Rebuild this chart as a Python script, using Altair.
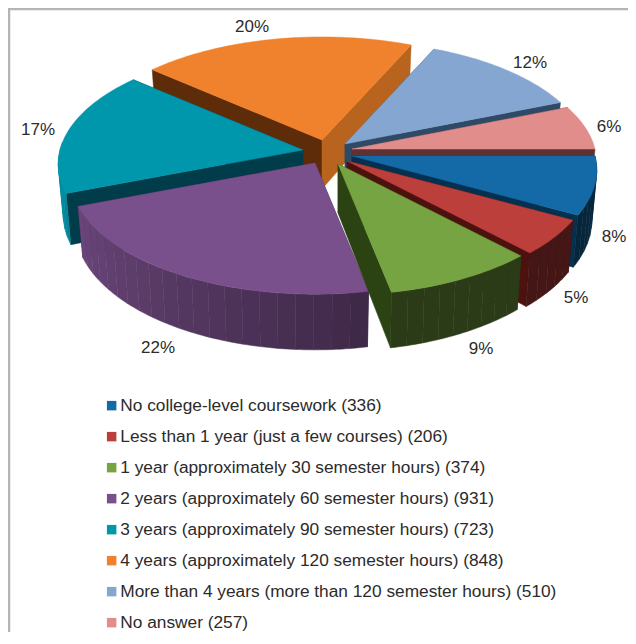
import math
import altair as alt

# ---- values ----
categories = [
    "No college-level coursework",
    "Less than 1 year (just a few courses)",
    "1 year (approximately 30 semester hours)",
    "2 years (approximately 60 semester hours)",
    "3 years (approximately 90 semester hours)",
    "4 years (approximately 120 semester hours)",
    "More than 4 years (more than 120 semester hours)",
    "No answer",
]
counts = [336, 206, 374, 931, 723, 848, 510, 257]
percent_labels = ["8%", "5%", "9%", "22%", "17%", "20%", "12%", "6%"]

# ---- styling and layout ----
top_colors = ["#146aa6", "#bc3f3c", "#77a443", "#7a508c", "#0096ac", "#f0822d", "#86a6d2", "#e08d8c"]
start_wall = ["#05304f", "#4c120e", "#2b4212", "#3e2850", "#013c4a", "#5e2c08", "#2f4a66", "#5c3232"]
end_wall = ["#05304f", "#4c120e", "#2b4212", "#3e2850", "#013c4a", "#b8641e", "#2f4a66", "#5c3232"]
apex = [(344, 148), (339, 153), (330, 156), (307, 155), (295, 142), (314, 132), (337, 136), (344, 141)]
label_xy = [(606, 229), (568, 290), (473, 341), (150, 340), (30, 122), (244, 19), (522, 55), (601, 119)]
paint_order = [5, 6, 4, 7, 0, 1, 3, 2]

W, H = 620, 624
R, K, P, D, BOTTOM = 243.0, 0.475, 0.12, 49.0, 0.98
FRAME = "#b4b4b4"


def top_pt(i, deg):
    t = math.radians(deg)
    w = 1 - P * math.sin(t)
    return [apex[i][0] + R * math.cos(t) / w, apex[i][1] + K * R * math.sin(t) / w]


def low_pt(i, deg):
    t = math.radians(deg)
    w = 1 - P * math.sin(t)
    return [apex[i][0] + BOTTOM * R * math.cos(t) / w, apex[i][1] + K * R * math.sin(t) / w + D / w]


def sweep(a, b, step=1.0):
    n = max(1, int(math.ceil((b - a) / step)))
    return [a + (b - a) * j / n for j in range(n + 1)]


def shade(hex_color, f):
    rgb = [int(hex_color[j:j + 2], 16) for j in (1, 3, 5)]
    return "#%02x%02x%02x" % tuple(int(round(c * f)) for c in rgb)


def side_factor(deg):
    d = deg % 360
    if d < 78:
        return 0.36
    if d < 160:
        return 0.5 + (d - 78) / 82 * 0.38
    return min(0.95, 0.88 + (d - 160) / 20 * 0.07)


labels = [f"{c} ({n})" for c, n in zip(categories, counts)]
total = sum(counts)
edges = [0.0]
for n in counts:
    edges.append(edges[-1] + 360.0 * n / total)

features = []
side_colors = [FRAME]


def add(key, ring):
    features.append({
        "type": "Feature",
        "properties": {"key": key},
        "geometry": {"type": "Polygon", "coordinates": [ring + [ring[0]]]},
    })


add(FRAME, [[0, 0], [W, 0], [W, 2], [0, 2]])
add(FRAME, [[0, 0], [2, 0], [2, H], [0, H]])

for i in paint_order:
    a, b = edges[i], edges[i + 1]
    base = [float(apex[i][0]), float(apex[i][1])]
    base_low = [base[0], base[1] + D]
    for deg, col in ((a, start_wall[i]), (b, end_wall[i])):
        add(col, [base, top_pt(i, deg), low_pt(i, deg), base_low])
        side_colors.append(col)
    # only the front of the rim can be seen
    rim_end = min(b, 184.0)
    if a < rim_end:
        steps = sweep(a, rim_end, 4.0)
        for s0, s1 in zip(steps[:-1], steps[1:]):
            col = shade(top_colors[i], side_factor((s0 + s1) / 2))
            degs = sweep(s0, s1)
            add(col, [top_pt(i, d) for d in degs] + [low_pt(i, d) for d in reversed(degs)])
            side_colors.append(col)
    add(labels[i], [base] + [top_pt(i, d) for d in sweep(a, b)])

extra = sorted(set(side_colors))
domain = labels + extra
color_range = top_colors + extra

pie_data = alt.Data(values={"type": "FeatureCollection", "features": features},
                    format=alt.DataFormat(property="features"))

pie = alt.Chart(pie_data).mark_geoshape(strokeWidth=0.5).encode(
    color=alt.Color(
        "properties.key:N",
        scale=alt.Scale(domain=domain, range=color_range),
        legend=alt.Legend(
            values=labels, title=None, orient="none", legendX=95, legendY=389,
            labelFont="Liberation Sans", labelFontSize=17.3, labelColor="#2b2b2b",
            labelLimit=0, symbolType="square", symbolSize=90, symbolStrokeWidth=0,
            symbolOpacity=1, rowPadding=13, labelOffset=0,
        ),
    ),
    stroke=alt.Stroke(
        "properties.key:N",
        scale=alt.Scale(domain=domain, range=color_range),
        legend=None,
    ),
).project(type="identity", scale=1, translate=[0, 0])

text_rows = [{"t": t, "px": p[0], "py": p[1]} for t, p in zip(percent_labels, label_xy)]
texts = alt.Chart(alt.Data(values=text_rows)).mark_text(
    font="Liberation Sans", fontSize=17, color="#2b2b2b", align="center", baseline="middle"
).encode(
    x=alt.X("px:Q", scale=None),
    y=alt.Y("py:Q", scale=None),
    text="t:N",
)

chart = alt.layer(pie, texts).properties(
    width=W, height=H, padding=0, background="white"
).configure_view(stroke=None).resolve_scale(x="independent", y="independent")

chart.save("out.html", embed_options={"renderer": "svg", "actions": False})
